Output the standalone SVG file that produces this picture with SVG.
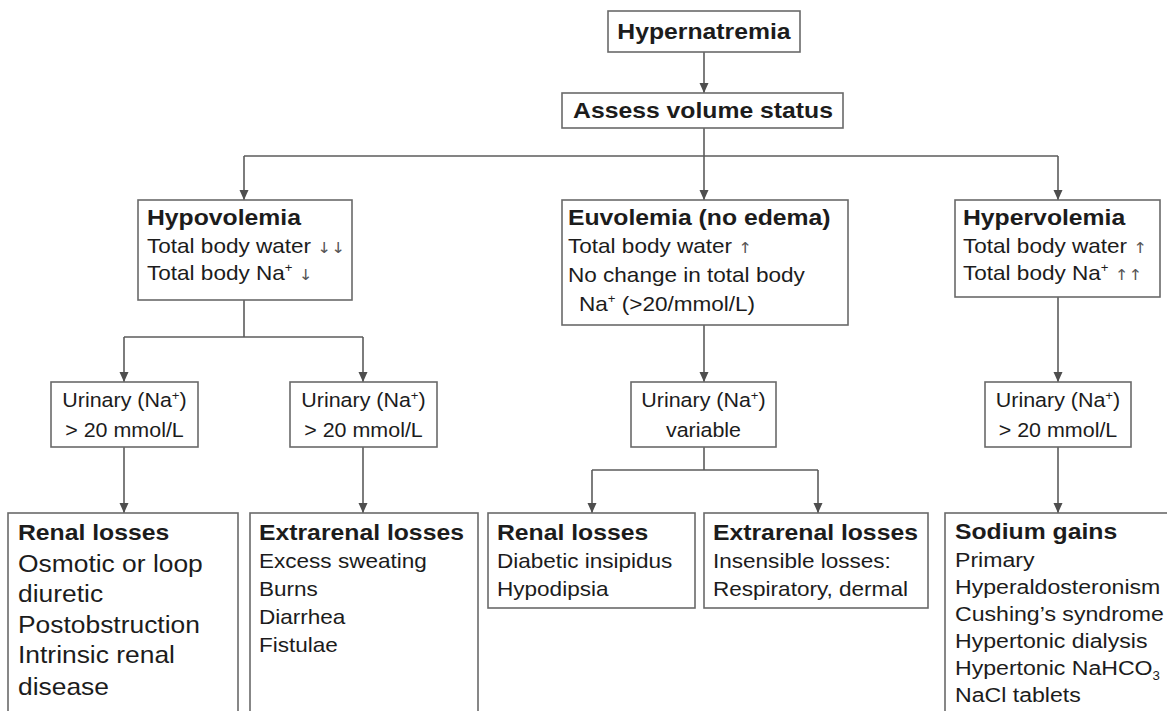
<svg xmlns="http://www.w3.org/2000/svg" width="1167" height="711" viewBox="0 0 1167 711">
  <style>
    text { font-family: "Liberation Sans", Arial, sans-serif; fill: #1c1c1c; }
    .title { font-weight: bold; font-size: 22.5px; }
    .body { font-size: 20.5px; }
    .big { font-size: 24px; }
    .urin { font-size: 19.5px; }
    .sg { font-size: 21px; }
    .mid { text-anchor: middle; }
    .sup { font-size: 12px; }
    .arr { font-family: "DejaVu Sans", sans-serif; font-size: 15px; fill: #555; }
    .box { fill: #ffffff; stroke: #6a6a6a; stroke-width: 1.6; }
    .wire { fill: none; stroke: #5c5c5c; stroke-width: 1.6; }
    .wire.arrow { marker-end: url(#head); }
  </style>
  <defs>
    <marker id="head" viewBox="0 0 10 10" refX="10" refY="5" markerWidth="10" markerHeight="10" markerUnits="userSpaceOnUse" orient="auto">
      <path d="M0,0.5 L10,5 L0,9.5 Z" fill="#4e4e4e"/>
    </marker>
  </defs>
  <rect width="1167" height="711" fill="#ffffff"/>

  <!-- connectors -->
  <g id="connectors">
    <path class="wire arrow" d="M704,52 V93"/>
    <path class="wire" d="M704,128 V156 M244,156 H1058"/>
    <path class="wire arrow" d="M244,156 V200"/>
    <path class="wire arrow" d="M704,156 V200"/>
    <path class="wire arrow" d="M1058,156 V200"/>
    <path class="wire" d="M244,300 V337 M124,337 H363"/>
    <path class="wire arrow" d="M124,337 V382"/>
    <path class="wire arrow" d="M363,337 V382"/>
    <path class="wire arrow" d="M704,325 V382"/>
    <path class="wire arrow" d="M1058,297 V382"/>
    <path class="wire arrow" d="M124,447 V513"/>
    <path class="wire arrow" d="M363,447 V513"/>
    <path class="wire" d="M704,447 V470 M592,470 H818"/>
    <path class="wire arrow" d="M592,470 V513"/>
    <path class="wire arrow" d="M818,470 V513"/>
    <path class="wire arrow" d="M1058,447 V513"/>
  </g>

  <!-- top of the tree -->
  <g id="hypernatremia">
    <rect class="box" x="608" y="11" width="192" height="41"/>
    <g transform="translate(704 0) scale(1.1 1)">
      <text class="title mid" x="0" y="39">Hypernatremia</text>
    </g>
  </g>
  <g id="assess">
    <rect class="box" x="562" y="93" width="281" height="35"/>
    <g transform="translate(703 0) scale(1.1 1)">
      <text class="title mid" x="0" y="118">Assess volume status</text>
    </g>
  </g>

  <!-- volume status branches -->
  <g id="hypovolemia">
    <rect class="box" x="138" y="200" width="214" height="100"/>
    <g transform="translate(147 0) scale(1.1 1)">
      <text class="title" x="0" y="225">Hypovolemia</text>
      <text class="body" x="0" y="253">Total body water <tspan class="arr">↓↓</tspan></text>
      <text class="body" x="0" y="280">Total body Na<tspan class="sup" dy="-8">+</tspan><tspan dy="8"> </tspan><tspan class="arr">↓</tspan></text>
    </g>
  </g>
  <g id="euvolemia">
    <rect class="box" x="562" y="200" width="286" height="125"/>
    <g transform="translate(568 0) scale(1.1 1)">
      <text class="title" x="0" y="225">Euvolemia (no edema)</text>
      <text class="body" x="0" y="253">Total body water <tspan class="arr">↑</tspan></text>
      <text class="body" x="0" y="282">No change in total body</text>
      <text class="body" x="10" y="311">Na<tspan class="sup" dy="-8">+</tspan><tspan dy="8"> (&gt;20/mmol/L)</tspan></text>
    </g>
  </g>
  <g id="hypervolemia">
    <rect class="box" x="955" y="200" width="205" height="97"/>
    <g transform="translate(963 0) scale(1.1 1)">
      <text class="title" x="0" y="225">Hypervolemia</text>
      <text class="body" x="0" y="253">Total body water <tspan class="arr">↑</tspan></text>
      <text class="body" x="0" y="280">Total body Na<tspan class="sup" dy="-8">+</tspan><tspan dy="8"> </tspan><tspan class="arr">↑↑</tspan></text>
    </g>
  </g>

  <!-- urinary sodium checks -->
  <g id="urinary-1">
    <rect class="box" x="51" y="382" width="147" height="65"/>
    <g transform="translate(124.5 0) scale(1.1 1)">
      <text class="urin mid" x="0" y="407">Urinary (Na<tspan class="sup" dy="-7">+</tspan><tspan dy="7">)</tspan></text>
      <text class="urin mid" x="0" y="437">&gt; 20 mmol/L</text>
    </g>
  </g>
  <g id="urinary-2">
    <rect class="box" x="290" y="382" width="147" height="65"/>
    <g transform="translate(363.5 0) scale(1.1 1)">
      <text class="urin mid" x="0" y="407">Urinary (Na<tspan class="sup" dy="-7">+</tspan><tspan dy="7">)</tspan></text>
      <text class="urin mid" x="0" y="437">&gt; 20 mmol/L</text>
    </g>
  </g>
  <g id="urinary-3">
    <rect class="box" x="631" y="382" width="145" height="65"/>
    <g transform="translate(703.5 0) scale(1.1 1)">
      <text class="urin mid" x="0" y="407">Urinary (Na<tspan class="sup" dy="-7">+</tspan><tspan dy="7">)</tspan></text>
      <text class="urin mid" x="0" y="437">variable</text>
    </g>
  </g>
  <g id="urinary-4">
    <rect class="box" x="985" y="382" width="146" height="65"/>
    <g transform="translate(1058 0) scale(1.1 1)">
      <text class="urin mid" x="0" y="407">Urinary (Na<tspan class="sup" dy="-7">+</tspan><tspan dy="7">)</tspan></text>
      <text class="urin mid" x="0" y="437">&gt; 20 mmol/L</text>
    </g>
  </g>

  <!-- causes -->
  <g id="renal-hypo">
    <rect class="box" x="8" y="513" width="230" height="210"/>
    <g transform="translate(18 0) scale(1.1 1)">
      <text class="title" x="0" y="540">Renal losses</text>
      <text class="big" x="0" y="572">Osmotic or loop</text>
      <text class="big" x="0" y="602">diuretic</text>
      <text class="big" x="0" y="633">Postobstruction</text>
      <text class="big" x="0" y="663">Intrinsic renal</text>
      <text class="big" x="0" y="695">disease</text>
    </g>
  </g>
  <g id="extrarenal-hypo">
    <rect class="box" x="250" y="513" width="228" height="210"/>
    <g transform="translate(259 0) scale(1.1 1)">
      <text class="title" x="0" y="540">Extrarenal losses</text>
      <text class="body" x="0" y="568">Excess sweating</text>
      <text class="body" x="0" y="596">Burns</text>
      <text class="body" x="0" y="624">Diarrhea</text>
      <text class="body" x="0" y="652">Fistulae</text>
    </g>
  </g>
  <g id="renal-eu">
    <rect class="box" x="488" y="513" width="207" height="95"/>
    <g transform="translate(497 0) scale(1.1 1)">
      <text class="title" x="0" y="540">Renal losses</text>
      <text class="body" x="0" y="568">Diabetic insipidus</text>
      <text class="body" x="0" y="596">Hypodipsia</text>
    </g>
  </g>
  <g id="extrarenal-eu">
    <rect class="box" x="704" y="513" width="224" height="95"/>
    <g transform="translate(713 0) scale(1.1 1)">
      <text class="title" x="0" y="540">Extrarenal losses</text>
      <text class="body" x="0" y="568">Insensible losses:</text>
      <text class="body" x="0" y="596">Respiratory, dermal</text>
    </g>
  </g>
  <g id="sodium-gains">
    <rect class="box" x="945" y="513" width="240" height="210"/>
    <g transform="translate(955 0) scale(1.1 1)">
      <text class="title" x="0" y="539">Sodium gains</text>
      <text class="sg" x="0" y="567">Primary</text>
      <text class="sg" x="0" y="594">Hyperaldosteronism</text>
      <text class="sg" x="0" y="621">Cushing’s syndrome</text>
      <text class="sg" x="0" y="648">Hypertonic dialysis</text>
      <text class="sg" x="0" y="675">Hypertonic NaHCO<tspan class="sup" font-size="14" dy="5">3</tspan></text>
      <text class="sg" x="0" y="702">NaCl tablets</text>
    </g>
  </g>
</svg>
